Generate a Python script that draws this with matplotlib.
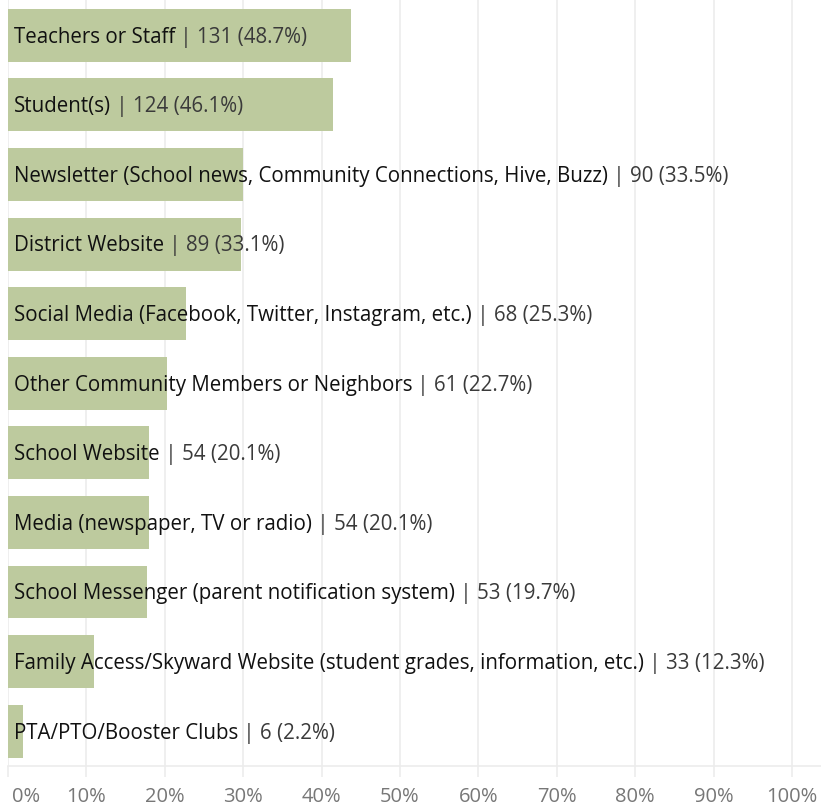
import matplotlib
matplotlib.use("Agg")
import matplotlib.pyplot as plt
from matplotlib.transforms import ScaledTranslation

categories = [
    "Teachers or Staff",
    "Student(s)",
    "Newsletter (School news, Community Connections, Hive, Buzz)",
    "District Website",
    "Social Media (Facebook, Twitter, Instagram, etc.)",
    "Other Community Members or Neighbors",
    "School Website",
    "Media (newspaper, TV or radio)",
    "School Messenger (parent notification system)",
    "Family Access/Skyward Website (student grades, information, etc.)",
    "PTA/PTO/Booster Clubs",
]
counts = [131, 124, 90, 89, 68, 61, 54, 54, 53, 33, 6]
pct_labels = ["48.7%", "46.1%", "33.5%", "33.1%", "25.3%", "22.7%",
              "20.1%", "20.1%", "19.7%", "12.3%", "2.2%"]
# bar lengths (percent)
bar_values = [43.7, 41.4, 30.0, 29.7, 22.7, 20.3, 18.0, 18.0, 17.7, 11.0, 1.9]
ticks = list(range(0, 101, 10))

plt.rcParams["font.family"] = ["Open Sans", "DejaVu Sans"]

W, H = 821, 806
fig = plt.figure(figsize=(W / 100, H / 100), dpi=100)
# axes: 0% at x=8, 100% at x=792, top y=0, baseline y=766
ax = fig.add_axes([8 / W, (H - 766) / H, (W - 8) / W, 766 / H])
ax.set_xlim(0, 100 * (W - 8) / 784)

n = len(categories)
ypos = list(range(n))
ax.barh(ypos, bar_values, height=0.76, color="#bdca9e", zorder=2)
ax.set_ylim(n - 0.5, -0.5 - 0.008)

for v in ticks:
    ax.axvline(v, color="#ececec", lw=1.2, zorder=1)

# text baseline sits ~7px below the bar centre
for i in ypos:
    t = ax.text(0.75, i + 0.105, categories[i], fontsize=14.8, color="#111111",
                va="baseline", ha="left", zorder=3)
    ax.annotate(" | %d (%s)" % (counts[i], pct_labels[i]), xy=(1, 0),
                xycoords=t, va="bottom", ha="left", fontsize=14.8,
                color="#3a3a3a", zorder=3)

ax.set_xticks(ticks)
ax.set_xticklabels(["%d%%" % v for v in ticks])
ax.tick_params(axis="x", length=8, width=1.2, color="#ececec",
               labelsize=14.5, labelcolor="#777777", pad=7)
# keep the 0% label inside the figure, like the original
first = ax.get_xticklabels()[0]
first.set_horizontalalignment("left")
first.set_transform(first.get_transform() + ScaledTranslation(4 / 100, 0, fig.dpi_scale_trans))
ax.set_yticks([])
for s in ["top", "right", "left"]:
    ax.spines[s].set_visible(False)
ax.spines["bottom"].set_color("#ececec")
ax.spines["bottom"].set_linewidth(1.2)

fig.savefig("out.png", dpi=100)
